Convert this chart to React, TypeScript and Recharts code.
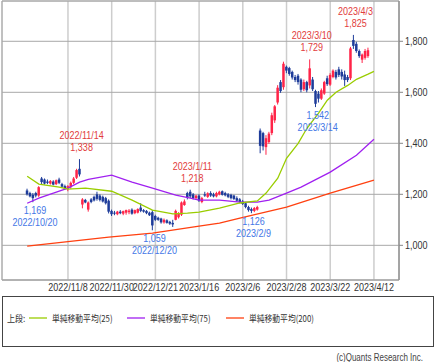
import React from 'react';
import {
  ComposedChart,
  Bar,
  Line,
  XAxis,
  YAxis,
  CartesianGrid,
  ReferenceArea,
  ReferenceDot,
} from 'recharts';

// ---------------- data ----------------
const dates = [
  '2022/10/18','2022/10/19','2022/10/20','2022/10/21','2022/10/24','2022/10/25','2022/10/26','2022/10/27','2022/10/28','2022/10/31',
  '2022/11/1','2022/11/2','2022/11/4','2022/11/7','2022/11/8','2022/11/9','2022/11/10','2022/11/11','2022/11/14','2022/11/15',
  '2022/11/16','2022/11/17','2022/11/18','2022/11/21','2022/11/22','2022/11/24','2022/11/25','2022/11/28','2022/11/29','2022/11/30',
  '2022/12/1','2022/12/2','2022/12/5','2022/12/6','2022/12/7','2022/12/8','2022/12/9','2022/12/12','2022/12/13','2022/12/14',
  '2022/12/15','2022/12/16','2022/12/19','2022/12/20','2022/12/21','2022/12/22','2022/12/23','2022/12/26','2022/12/27','2022/12/28',
  '2022/12/29','2022/12/30','2023/1/4','2023/1/5','2023/1/6','2023/1/10','2023/1/11','2023/1/12','2023/1/13','2023/1/16',
  '2023/1/17','2023/1/18','2023/1/19','2023/1/20','2023/1/23','2023/1/24','2023/1/25','2023/1/26','2023/1/27','2023/1/30',
  '2023/1/31','2023/2/1','2023/2/2','2023/2/3','2023/2/6','2023/2/7','2023/2/8','2023/2/9','2023/2/10','2023/2/13',
  '2023/2/14','2023/2/15','2023/2/16','2023/2/17','2023/2/20','2023/2/21','2023/2/22','2023/2/24','2023/2/27','2023/2/28',
  '2023/3/1','2023/3/2','2023/3/3','2023/3/6','2023/3/7','2023/3/8','2023/3/9','2023/3/10','2023/3/13','2023/3/14',
  '2023/3/15','2023/3/16','2023/3/17','2023/3/20','2023/3/22','2023/3/23','2023/3/24','2023/3/27','2023/3/28','2023/3/29',
  '2023/3/30','2023/3/31','2023/4/3','2023/4/4','2023/4/5','2023/4/6','2023/4/7','2023/4/10','2023/4/11','2023/4/12',
];

const opens = [
  1215,1205,1198,1205,1195,1262,1258,1250,1242,1250,
  1240,1258,1240,1232,1220,1228,1245,1265,1300,1160,
  1178,1140,1180,1190,1200,1195,1190,1185,1175,1135,
  1128,1122,1132,1124,1128,1130,1140,1126,1128,1148,
  1138,1135,1128,1130,1115,1108,1105,1090,1098,1092,
  1088,1100,1110,1120,1158,1205,1210,1200,1185,1195,
  1170,1200,1190,1205,1200,1192,1200,1212,1205,1200,
  1198,1195,1185,1180,1172,1165,1150,1142,1135,1140,
  1450,1440,1385,1405,1440,1490,1560,1640,1620,1700,
  1695,1680,1660,1665,1650,1612,1640,1627,1650,1605,
  1595,1575,1595,1655,1630,1660,1680,1690,1680,1670,
  1660,1655,1805,1790,1762,1728,1735,1742,
];
const highs = [
  1222,1210,1205,1210,1232,1268,1262,1258,1256,1255,
  1258,1265,1245,1238,1236,1250,1268,1300,1338,1185,
  1182,1172,1185,1195,1210,1200,1195,1190,1180,1140,
  1135,1135,1138,1136,1140,1142,1145,1140,1145,1165,
  1142,1138,1132,1138,1120,1112,1108,1105,1102,1096,
  1100,1140,1130,1172,1180,1210,1218,1205,1198,1200,
  1190,1210,1208,1212,1206,1210,1214,1215,1210,1205,
  1202,1198,1192,1185,1178,1170,1155,1148,1150,1155,
  1458,1445,1432,1445,1520,1550,1628,1648,1720,1705,
  1700,1685,1668,1672,1655,1650,1645,1729,1660,1610,
  1605,1615,1645,1665,1675,1690,1688,1700,1690,1685,
  1668,1778,1825,1798,1768,1752,1770,1775,
];
const lows = [
  1195,1188,1169,1188,1190,1240,1238,1240,1238,1235,
  1236,1240,1225,1218,1212,1222,1240,1260,1270,1145,
  1165,1132,1165,1172,1175,1172,1168,1160,1125,1115,
  1118,1118,1122,1118,1120,1122,1120,1122,1125,1130,
  1128,1122,1115,1059,1095,1096,1085,1085,1085,1080,
  1072,1098,1105,1115,1155,1180,1185,1180,1178,1170,
  1165,1190,1186,1190,1188,1188,1196,1195,1192,1185,
  1180,1178,1170,1165,1158,1145,1132,1126,1130,1136,
  1361,1372,1355,1398,1432,1480,1552,1598,1610,1675,
  1665,1650,1640,1630,1600,1605,1600,1615,1605,1542,
  1560,1570,1590,1625,1625,1655,1650,1660,1650,1625,
  1640,1648,1770,1755,1735,1715,1728,1735,
];
const closes = [
  1200,1192,1185,1195,1228,1248,1242,1245,1252,1238,
  1255,1245,1230,1222,1232,1245,1262,1295,1278,1180,
  1168,1168,1170,1176,1182,1178,1172,1165,1132,1122,
  1124,1132,1126,1134,1138,1136,1124,1138,1142,1135,
  1132,1126,1118,1078,1100,1100,1090,1100,1088,1085,
  1082,1135,1125,1168,1172,1188,1192,1185,1195,1175,
  1185,1195,1204,1195,1192,1205,1210,1198,1196,1190,
  1185,1182,1175,1170,1162,1150,1138,1135,1146,1150,
  1390,1388,1420,1438,1510,1545,1618,1605,1712,1685,
  1672,1658,1648,1640,1610,1640,1608,1694,1612,1555,
  1575,1608,1640,1632,1668,1685,1658,1668,1662,1648,
  1648,1772,1782,1762,1742,1748,1762,1765,
];

// moving averages read at key dates: [date index, value]
const ma25Points: [number, number][] = [
  [0,1271],[4,1240],[11,1228],[14,1220],[20,1224],[29,1212],[36,1177],[43,1138],[50,1123],[55,1126],
  [59,1130],[66,1146],[73,1166],[79,1174],[82,1205],[86,1263],[89,1341],[93,1400],[96,1459],[100,1518],
  [103,1569],[106,1600],[110,1627],[113,1651],[117,1671],[119,1682],
];
const ma75Points: [number, number][] = [
  [0,1165],[4,1185],[9,1205],[14,1224],[18,1248],[21,1259],[29,1275],[36,1248],[43,1224],[51,1197],
  [56,1185],[59,1177],[66,1177],[73,1169],[79,1169],[83,1177],[89,1205],[94,1228],[104,1287],[113,1353],[119,1416],
];
const ma200Points: [number, number][] = [
  [0,997],[28,1032],[43,1048],[59,1075],[66,1087],[73,1107],[89,1150],[104,1205],[119,1256],
];

const yTicks = [1000, 1200, 1400, 1600, 1800];
const xTickLabels = ['2022/11/8','2022/11/30','2022/12/21','2023/1/16','2023/2/6','2023/2/28','2023/3/22','2023/4/12'];

const highMarks = [
  { date: '2022/11/14', price: 1338 },
  { date: '2023/1/11', price: 1218 },
  { date: '2023/3/10', price: 1729 },
  { date: '2023/4/3', price: 1825 },
];
const lowMarks = [
  { date: '2022/10/20', price: 1169 },
  { date: '2022/12/20', price: 1059 },
  { date: '2023/2/9', price: 1126 },
  { date: '2023/3/14', price: 1542 },
];

const legendItems = [
  { name: '単純移動平均(25)', color: '#9acd00' },
  { name: '単純移動平均(75)', color: '#a020f0' },
  { name: '単純移動平均(200)', color: '#ff4010' },
];

// ---------------- style ----------------
const FONT = '"Liberation Sans", Arial, sans-serif';
const JP = '"Noto Sans CJK JP", sans-serif';
const SX = 0.82; // horizontal condensing of text
const UP = '#ff2448';
const DOWN = '#1e3c9a';
const RED_TXT = '#e23c3c';
const BLUE_TXT = '#4477e6';
const X_MIN = -8.64;
const X_MAX = 127.6;
const Y_MIN = 864;
const Y_MAX = 1958;

const toMap = (pts: [number, number][]) => {
  const m: Record<number, number> = {};
  pts.forEach(([i, v]) => { m[i] = v; });
  return m;
};
const ma25Map = toMap(ma25Points);
const ma75Map = toMap(ma75Points);
const ma200Map = toMap(ma200Points);

const rows = dates.map((date, i) => ({
  i,
  date,
  o: opens[i] ?? null,
  h: highs[i] ?? null,
  l: lows[i] ?? null,
  c: closes[i] ?? null,
  ma25: ma25Map[i] ?? null,
  ma75: ma75Map[i] ?? null,
  ma200: ma200Map[i] ?? null,
}));

const xTickIdx = xTickLabels.map((d) => dates.indexOf(d));
const fmt = (v: number) => v.toLocaleString('en-US');

// condensed text helper
const NText = ({ x, y, anchor = 'middle', color = '#333', size = 11, family = FONT, sx = SX, children, dy }: any) => (
  <g transform={`translate(${x},${y}) scale(${sx},1)`}>
    <text x={0} y={0} dy={dy} textAnchor={anchor} fill={color} fontSize={size} fontFamily={family}>
      {children}
    </text>
  </g>
);

const XTick = (props: any) => {
  const { x, y, payload } = props;
  return <NText x={x} y={y} dy="0.71em">{dates[payload.value]}</NText>;
};
const YTick = (props: any) => {
  const { x, y, payload } = props;
  return <NText x={x} y={y} dy="0.355em" anchor="start">{fmt(payload.value)}</NText>;
};

const Candle = (props: any) => {
  const { x, y, width, height, payload } = props;
  if (!payload || payload.h == null || x == null || y == null) return null;
  const { o, h, l, c } = payload;
  const top = Math.min(y, y + height);
  const bottom = Math.max(y, y + height);
  const span = h - l || 1;
  const py = (v: number) => top + ((h - v) / span) * (bottom - top);
  const cx = x + width / 2;
  const color = c >= o ? UP : DOWN;
  const bTop = py(Math.max(o, c));
  const bBot = py(Math.min(o, c));
  return (
    <g>
      <line x1={cx} x2={cx} y1={top} y2={bottom} stroke={color} strokeWidth={1} />
      <rect x={cx - 1.25} y={bTop} width={2.5} height={Math.max(1, bBot - bTop)} fill={color} />
    </g>
  );
};

const MarkLabel = ({ cx, cy, mark, kind }: any) => {
  if (cx == null || cy == null) return null;
  const color = kind === 'high' ? RED_TXT : BLUE_TXT;
  const tx = cx + 2;
  if (kind === 'high') {
    return (
      <g>
        <NText x={tx} y={cy - 20} color={color}>{mark.date}</NText>
        <NText x={tx} y={cy - 8} color={color}>{fmt(mark.price)}</NText>
      </g>
    );
  }
  return (
    <g>
      <NText x={tx} y={cy + 12} color={color}>{fmt(mark.price)}</NText>
      <NText x={tx} y={cy + 24} color={color}>{mark.date}</NText>
    </g>
  );
};

export default function App() {
  return (
    <div style={{ position: 'absolute', left: 0, top: 0, width: 436, height: 362, background: '#fff' }}>
      <ComposedChart
        width={436}
        height={296}
        data={rows}
        margin={{ top: 1, right: 0, left: 2, bottom: 0 }}
      >
        <CartesianGrid horizontal={false} stroke="#cdcdcd" strokeWidth={1.5} />
        <CartesianGrid vertical={false} stroke="#a8a8a8" strokeWidth={1} />
        <ReferenceArea x1={X_MIN} x2={X_MAX} y1={Y_MIN} y2={Y_MAX} fill="none" stroke="#a8a8a8" strokeOpacity={1} fillOpacity={0} ifOverflow="visible" />
        <XAxis
          type="number"
          dataKey="i"
          domain={[X_MIN, X_MAX]}
          allowDataOverflow
          ticks={xTickIdx}
          interval={0}
          tickLine={false}
          tickSize={0}
          tickMargin={3.5}
          height={16}
          axisLine={{ stroke: '#a8a8a8' }}
          tick={<XTick />}
        />
        <YAxis
          orientation="right"
          type="number"
          domain={[Y_MIN, Y_MAX]}
          allowDataOverflow
          ticks={yTicks}
          interval={0}
          width={37}
          tickSize={4}
          tickMargin={2}
          axisLine={{ stroke: '#888' }}
          tickLine={{ stroke: '#888' }}
          tick={<YTick />}
        />
        <Line dataKey="ma200" stroke="#ff4010" strokeWidth={1.3} dot={false} connectNulls isAnimationActive={false} />
        <Line dataKey="ma75" stroke="#a020f0" strokeWidth={1.3} dot={false} connectNulls isAnimationActive={false} />
        <Line dataKey="ma25" stroke="#9acd00" strokeWidth={1.3} dot={false} connectNulls isAnimationActive={false} />
        <Bar
          dataKey={(d: any) => (d.h == null ? null : [d.l, d.h])}
          barSize={3}
          shape={(p: any) => <Candle {...p} />}
          isAnimationActive={false}
        />
        {highMarks.map((m) => (
          <ReferenceDot
            key={'h' + m.date}
            x={dates.indexOf(m.date)}
            y={m.price}
            r={1}
            shape={(p: any) => <MarkLabel cx={p.cx} cy={p.cy} mark={m} kind="high" />}
          />
        ))}
        {lowMarks.map((m) => (
          <ReferenceDot
            key={'l' + m.date}
            x={dates.indexOf(m.date)}
            y={m.price}
            r={1}
            shape={(p: any) => <MarkLabel cx={p.cx} cy={p.cy} mark={m} kind="low" />}
          />
        ))}
      </ComposedChart>
      <svg width={436} height={66} style={{ position: 'absolute', left: 0, top: 296 }}>
        <rect x={2.5} y={0.5} width={431} height={50} fill="none" stroke="#444" strokeWidth={1} />
        <NText x={7} y={25.5} anchor="start" size={9.5} family={JP} sx={0.85}>上段:</NText>
        {legendItems.map((it, k) => {
          const x0 = [29, 127, 226][k];
          return (
            <g key={it.name}>
              <line x1={x0} x2={x0 + 18} y1={22} y2={22} stroke={it.color} strokeWidth={1.3} />
              <NText x={x0 + 23} y={25.5} anchor="start" size={9.5} family={JP} sx={0.82}>{it.name}</NText>
            </g>
          );
        })}
        <NText x={423} y={65} anchor="end" size={10} color="#444" sx={0.8}>(c)Quants Research Inc.</NText>
      </svg>
    </div>
  );
}
